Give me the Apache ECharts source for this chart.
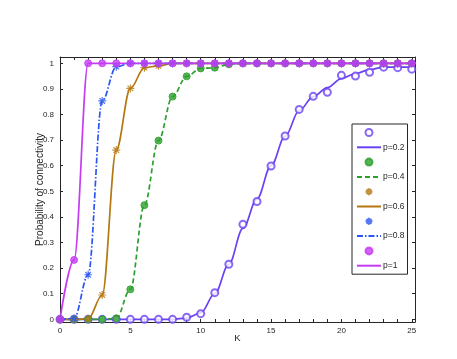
<!DOCTYPE html>
<html>
<head>
<meta charset="utf-8">
<script src="https://cdn.jsdelivr.net/npm/echarts@6/dist/echarts.min.js"></script>
<style>
  html, body { margin: 0; padding: 0; background: #fff; }
  #chart { width: 457px; height: 359px; }
</style>
</head>
<body>
<div id="chart"></div>
<script>
// K values 0..25
const kValues = [0, 1, 2, 3, 4, 5, 6, 7, 8, 9, 10, 11, 12, 13, 14, 15, 16, 17, 18, 19, 20, 21, 22, 23, 24, 25]

// simulated points (markers)
const p02Points = [0, 0, 0, 0, 0, 0, 0, 0, 0, 0.008, 0.022, 0.104, 0.215, 0.371, 0.46, 0.599, 0.716, 0.82, 0.871, 0.887, 0.953, 0.95, 0.965, 0.985, 0.983, 0.977]
const p04Points = [0, 0, 0, 0, 0.004, 0.117, 0.446, 0.698, 0.87, 0.949, 0.98, 0.983, 0.996, 1, 1, 1, 1, 1, 1, 1, 1, 1, 1, 1, 1, 1]
const p06Points = [0, 0, 0.002, 0.095, 0.661, 0.902, 0.983, 0.99, 1, 1, 1, 1, 1, 1, 1, 1, 1, 1, 1, 1, 1, 1, 1, 1, 1, 1]
const p08Points = [0, 0.003, 0.174, 0.853, 0.987, 1, 1, 1, 1, 1, 1, 1, 1, 1, 1, 1, 1, 1, 1, 1, 1, 1, 1, 1, 1, 1]
const p1Points = [0, 0.232, 1, 1, 1, 1, 1, 1, 1, 1, 1, 1, 1, 1, 1, 1, 1, 1, 1, 1, 1, 1, 1, 1, 1, 1]

// analytical curves (lines)
const p02Curve = [0, 0, 0, 0, 0, 0, 0, 0, 0, 0.005, 0.025, 0.1, 0.215, 0.355, 0.47, 0.6, 0.715, 0.815, 0.87, 0.905, 0.94, 0.96, 0.975, 0.985, 0.985, 0.985]
const p04Curve = p04Points
const p06Curve = p06Points
const p08Curve = p08Points
const p1Curve = p1Points

const xLabels = [0, 5, 10, 15, 20, 25]
const yLabels = [0, 0.1, 0.2, 0.3, 0.4, 0.5, 0.6, 0.7, 0.8, 0.9, 1]

const colors = {
  p02: '#6a42f2',
  p04: '#2ca02c',
  p06: '#b5770f',
  p08: '#2a55f5',
  p1: '#c63cf2'
}

const asterisk = 'path://M0 -5 L0 5 M-5 0 L5 0 M-3.5 -3.5 L3.5 3.5 M-3.5 3.5 L3.5 -3.5'

const pairs = (ys) => kValues.map((k, i) => [k, ys[i]])

const chart = echarts.init(document.getElementById('chart'))

const axisColor = '#262626'
const fontFamily = 'Liberation Sans, Arial, sans-serif'

const lineSeries = (name, data, color, type) => ({
  name: name,
  type: 'line',
  data: pairs(data),
  smooth: 0.35,
  smoothMonotone: 'x',
  symbol: 'none',
  showSymbol: false,
  lineStyle: { color: color, width: 1.7, type: type },
  itemStyle: { color: color },
  z: 2
})

const markerSeries = (name, data, color, symbol, size, opts) => ({
  name: name,
  type: 'scatter',
  data: pairs(data),
  symbol: symbol,
  symbolSize: size,
  itemStyle: Object.assign({ color: color, borderColor: color, borderWidth: 1 }, opts || {}),
  z: 3
})

const lineItem = (name) => ({ name: name, itemStyle: { opacity: 0 } })

const option = {
  animation: false,
  grid: { left: 60, right: 42, top: 57, bottom: 37, containLabel: false },
  xAxis: [
    {
      type: 'value',
      min: 0,
      max: 25.23,
      name: 'K',
      nameLocation: 'middle',
      nameGap: 11,
      nameMoveOverlap: false,
      nameTextStyle: { color: axisColor, fontSize: 9.5, fontFamily: fontFamily },
      axisLine: { show: true, onZero: false, lineStyle: { color: axisColor, width: 1 } },
      axisTick: { show: true, inside: true, length: 3, customValues: kValues, lineStyle: { color: axisColor } },
      axisLabel: { customValues: xLabels, color: axisColor, fontSize: 8, margin: 5, fontFamily: fontFamily },
      splitLine: { show: false }
    },
    {
      type: 'value',
      position: 'top',
      min: 0,
      max: 25.23,
      axisLine: { show: true, onZero: false, lineStyle: { color: axisColor, width: 1 } },
      axisTick: { show: true, inside: true, length: 3, customValues: kValues, lineStyle: { color: axisColor } },
      axisLabel: { show: false },
      splitLine: { show: false }
    }
  ],
  yAxis: [
    {
      type: 'value',
      min: -0.0105,
      max: 1.0246,
      name: 'Probability of connectivity',
      nameLocation: 'middle',
      nameGap: 15,
      nameMoveOverlap: false,
      nameTextStyle: { color: axisColor, fontSize: 10, fontFamily: fontFamily },
      axisLine: { show: true, onZero: false, lineStyle: { color: axisColor, width: 1 } },
      axisTick: { show: true, inside: true, length: 3, customValues: yLabels, lineStyle: { color: axisColor } },
      axisLabel: { customValues: yLabels, color: axisColor, fontSize: 8, margin: 6, fontFamily: fontFamily },
      splitLine: { show: false }
    },
    {
      type: 'value',
      position: 'right',
      min: -0.0105,
      max: 1.0246,
      axisLine: { show: true, onZero: false, lineStyle: { color: axisColor, width: 1 } },
      axisTick: { show: true, inside: true, length: 3, customValues: yLabels, lineStyle: { color: axisColor } },
      axisLabel: { show: false },
      splitLine: { show: false }
    }
  ],
  legend: {
    orient: 'vertical',
    left: 352,
    top: 124,
    padding: [4, 3, 4, 4],
    itemWidth: 24,
    itemHeight: 7,
    itemGap: 5.8,
    backgroundColor: '#fff',
    borderColor: axisColor,
    borderWidth: 1,
    borderRadius: 0,
    data: ['s0.2', lineItem('p=0.2'), 's0.4', lineItem('p=0.4'), 's0.6', lineItem('p=0.6'), 's0.8', lineItem('p=0.8'), 's1', lineItem('p=1')],
    formatter: (name) => (name.charAt(0) === 's' ? '' : name),
    textStyle: { color: axisColor, fontSize: 8.5, lineHeight: 9, fontFamily: fontFamily, padding: [0, 0, 0, -3] }
  },
  series: [
    lineSeries('p=0.2', p02Curve, colors.p02, 'solid'),
    markerSeries('s0.2', p02Points, colors.p02, 'emptyCircle', 7, { borderWidth: 1.1 }),
    lineSeries('p=0.4', p04Curve, colors.p04, [5, 3]),
    markerSeries('s0.4', p04Points, colors.p04, 'circle', 7),
    lineSeries('p=0.6', p06Curve, colors.p06, 'solid'),
    markerSeries('s0.6', p06Points, colors.p06, asterisk, 8, { borderWidth: 1.2 }),
    lineSeries('p=0.8', p08Curve, colors.p08, [6, 2, 1.5, 2]),
    markerSeries('s0.8', p08Points, colors.p08, asterisk, 8, { borderWidth: 1.2 }),
    lineSeries('p=1', p1Curve, colors.p1, 'solid'),
    markerSeries('s1', p1Points, colors.p1, 'circle', 7)
  ]
}

chart.setOption(option)
window.addEventListener('resize', () => chart.resize())
</script>
</body>
</html>
